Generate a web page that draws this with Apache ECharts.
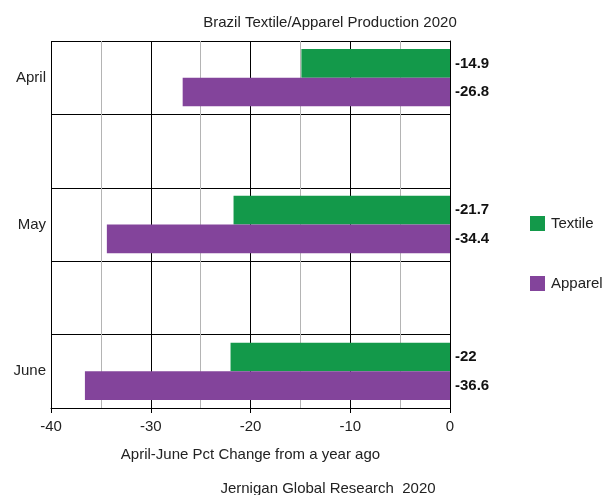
<!DOCTYPE html>
<html>
<head>
<meta charset="utf-8">
<script src="https://cdn.jsdelivr.net/npm/echarts@6/dist/echarts.min.js"></script>
<style>html,body{margin:0;padding:0;background:#fff}#c{width:611px;height:495px}</style>
</head>
<body>
<div id="c"></div>
<script>
const categories = ['April', '', 'May', '', 'June'];
const textile = [-14.9, null, -21.7, null, -22];
const apparel = [-26.8, null, -34.4, null, -36.6];
const xTicks = [-40, -30, -20, -10, 0];

const FONT = '"Liberation Sans", Arial, sans-serif';
const chart = echarts.init(document.getElementById('c'), null, {renderer: 'canvas'});
const labelCfg = {
  show: true, position: 'right', distance: 5, padding: [4, 0, 0, 0],
  fontFamily: FONT, fontSize: 15, fontWeight: 'bold', color: '#111'
};
chart.setOption({
  animation: false,
  backgroundColor: '#fff',
  title: [
    {text: 'Brazil Textile/Apparel Production 2020', left: 325, top: 10, textAlign: 'center',
     textStyle: {fontFamily: FONT, fontSize: 15, fontWeight: 'normal', color: '#222'}},
    {text: 'Jernigan Global Research  2020', left: 323, top: 476, textAlign: 'center',
     textStyle: {fontFamily: FONT, fontSize: 15, fontWeight: 'normal', color: '#222'}}
  ],
  legend: {
    orient: 'vertical', left: 525, top: 211, itemWidth: 15, itemHeight: 15, itemGap: 45,
    icon: 'rect',
    textStyle: {fontFamily: FONT, fontSize: 15, color: '#222', padding: [0, 0, 0, 1]},
    data: ['Textile', 'Apparel']
  },
  grid: {left: 51, right: 161, top: 41, bottom: 87, containLabel: false},
  xAxis: {
    type: 'value', min: xTicks[0], max: xTicks[xTicks.length - 1], interval: 10,
    name: 'April-June Pct Change from a year ago', nameLocation: 'middle', nameGap: 39,
    nameTextStyle: {fontFamily: FONT, fontSize: 15, color: '#222'},
    axisLine: {show: true, lineStyle: {color: '#000', width: 1}},
    axisTick: {show: true, length: 5, lineStyle: {color: '#000'}},
    axisLabel: {fontFamily: FONT, fontSize: 15, color: '#222', margin: 11},
    splitLine: {show: true, lineStyle: {color: '#000', width: 1}},
    minorTick: {show: false, splitNumber: 2},
    minorSplitLine: {show: true, lineStyle: {color: '#b4b4b4', width: 1}}
  },
  yAxis: {
    type: 'category', data: categories, inverse: true,
    axisLine: {show: true, lineStyle: {color: '#000', width: 1}},
    axisTick: {show: true, length: 6, lineStyle: {color: '#000'}},
    axisLabel: {fontFamily: FONT, fontSize: 15, color: '#222', margin: 5, padding: [4, 0, 0, 0]},
    splitLine: {show: true, lineStyle: {color: '#000', width: 1}}
  },
  series: [
    {name: 'Textile', type: 'bar', data: textile, barGap: '0%', barCategoryGap: '22%',
     itemStyle: {color: '#13994a'}, label: labelCfg},
    {name: 'Apparel', type: 'bar', data: apparel, barGap: '0%', barCategoryGap: '22%',
     itemStyle: {color: '#83449b'}, label: labelCfg}
  ]
});
</script>
</body>
</html>
